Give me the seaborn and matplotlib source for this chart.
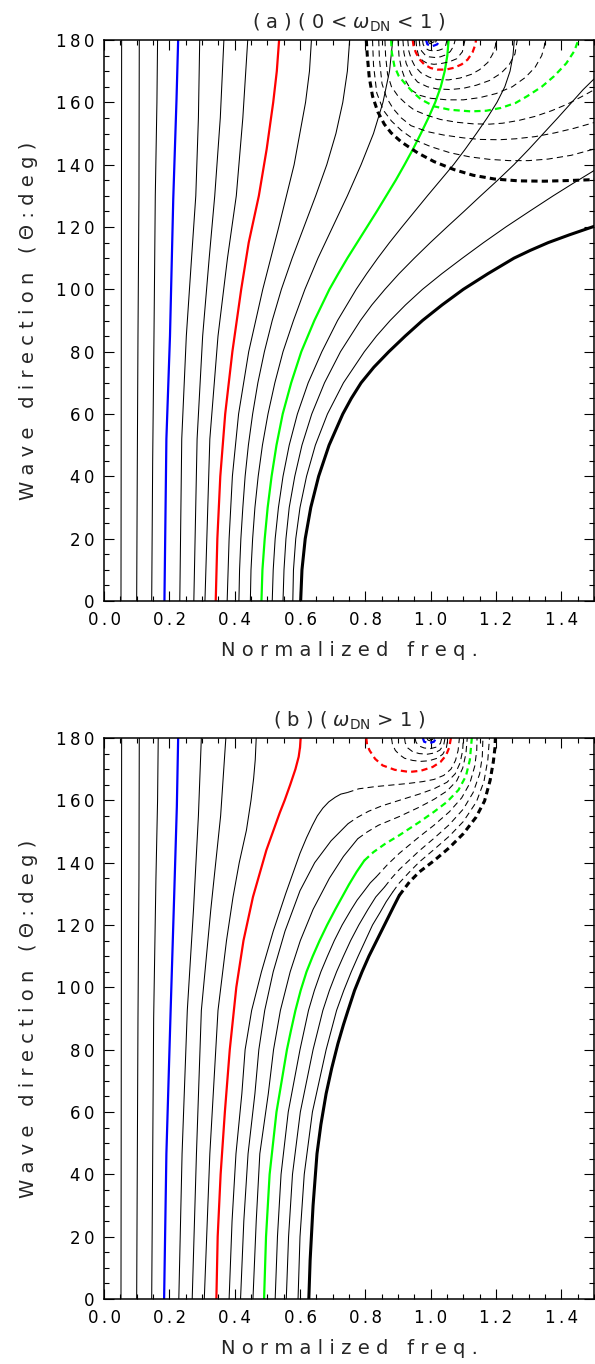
import matplotlib
matplotlib.use('Agg')
import matplotlib.pyplot as plt
import seaborn as sns
import pandas as pd
from matplotlib.ticker import MultipleLocator, FuncFormatter

# ---------------------------------------------------------------------------
# Panel (a): contour lines, one list per contour level
# freq = normalized frequency, dir = wave direction in degrees
# ---------------------------------------------------------------------------
A_SOLID_FREQ = [
    [0.052, 0.053, 0.054],
    [0.100, 0.102, 0.104, 0.107, 0.108],
    [0.146, 0.149, 0.153, 0.157, 0.162, 0.164],
    [0.185, 0.191, 0.202, 0.212, 0.222, 0.227],
    [0.232, 0.238, 0.252, 0.268, 0.281, 0.289, 0.293],
    [0.275, 0.285, 0.302, 0.322, 0.339, 0.356, 0.367],
    [0.309, 0.324, 0.349, 0.378, 0.405, 0.425, 0.440],
    [0.342, 0.347, 0.356, 0.371, 0.393, 0.420, 0.443, 0.474, 0.498, 0.518, 0.529, 0.536],
    [0.377, 0.383, 0.393, 0.412, 0.443, 0.486, 0.535, 0.582, 0.617, 0.629, 0.635],
    [0.413, 0.415, 0.419, 0.425, 0.432, 0.442, 0.455, 0.471, 0.491, 0.515, 0.543, 0.576, 0.612,
     0.648, 0.682, 0.710, 0.731, 0.745, 0.752],
    [0.448, 0.450, 0.455, 0.462, 0.472, 0.485, 0.502, 0.523, 0.548, 0.580, 0.615, 0.655, 0.700,
     0.745, 0.787, 0.825, 0.854, 0.874, 0.884],
    [0.482, 0.485, 0.492, 0.501, 0.513, 0.528, 0.547, 0.573, 0.604, 0.644, 0.690, 0.717, 0.745,
     0.775, 0.805, 0.835, 0.864, 0.893, 0.920, 0.946, 0.970, 0.993, 1.014, 1.031, 1.043, 1.051,
     1.055],
    [0.515, 0.518, 0.524, 0.534, 0.548, 0.567, 0.592, 0.625, 0.667, 0.715, 0.772, 0.804, 0.838,
     0.874, 0.912, 0.951, 0.990, 1.030, 1.070, 1.106, 1.140, 1.173, 1.203, 1.227, 1.243, 1.252,
     1.256],
    [0.548, 0.551, 0.557, 0.567, 0.584, 0.606, 0.636, 0.675, 0.724, 0.785, 0.820, 0.860, 0.903,
     0.950, 0.999, 1.050, 1.102, 1.153, 1.205, 1.255, 1.301, 1.345, 1.389, 1.432, 1.466, 1.500],
    [0.578, 0.580, 0.587, 0.600, 0.620, 0.647, 0.684, 0.733, 0.797, 0.834, 0.876, 0.923, 0.975,
     1.034, 1.097, 1.162, 1.230, 1.302, 1.375, 1.436, 1.500],
    [0.602, 0.606, 0.616, 0.633, 0.657, 0.689, 0.731, 0.757, 0.787, 0.826, 0.872, 0.922, 0.975,
     1.035, 1.100, 1.175, 1.255, 1.305, 1.360, 1.425, 1.500],
]
A_SOLID_DIR = [
    [0, 90, 180],
    [0, 45, 85, 130, 180],
    [0, 45, 85, 130, 160, 180],
    [0, 52, 85, 129, 161, 180],
    [0, 52, 85, 110, 130, 155, 180],
    [0, 52, 85, 110, 130, 155, 180],
    [0, 52, 85, 110, 130, 155, 180],
    [0, 20, 40, 60, 80, 100, 115, 130, 145, 160, 170, 180],
    [0, 20, 40, 60, 80, 100, 120, 140, 160, 170, 180],
    [0, 10, 20, 30, 40, 50, 60, 70, 80, 90, 100, 110, 120, 130, 140, 150, 160, 170, 180],
    [0, 10, 20, 30, 40, 50, 60, 70, 80, 90, 100, 110, 120, 130, 140, 150, 160, 170, 180],
    [0, 10, 20, 30, 40, 50, 60, 70, 80, 90, 100, 105, 110, 115, 120, 125, 130, 135, 140, 145,
     150, 155, 160, 165, 170, 175, 180],
    [0, 10, 20, 30, 40, 50, 60, 70, 80, 90, 100, 105, 110, 115, 120, 125, 130, 135, 140, 145,
     150, 155, 160, 165, 170, 175, 180],
    [0, 10, 20, 30, 40, 50, 60, 70, 80, 90, 95, 100, 105, 110, 115, 120, 125, 130, 135, 140,
     145, 150, 155, 160, 164, 167.5],
    [0, 10, 20, 30, 40, 50, 60, 70, 80, 85, 90, 95, 100, 105, 110, 115, 120, 125, 130, 134, 138.1],
    [0, 10, 20, 30, 40, 50, 60, 65, 70, 75, 80, 85, 90, 95, 100, 105, 110, 112.5, 115, 117.5, 120.2],
]

A_DASH_LEVELS = [2, 3, 4, 5, 6, 7, 8, 9, 10, 11, 12, 13, 14, 15, 16]
A_DASH_FREQ = [
    [0.997, 1.000, 1.005, 1.010, 1.012],
    [0.993, 0.995, 1.004, 1.014, 1.018],
    [0.986, 0.990, 1.005, 1.020, 1.027],
    [0.975, 0.977, 0.983, 0.995, 1.010, 1.025, 1.038, 1.046, 1.050],
    [0.965, 0.967, 0.972, 0.982, 0.995, 1.012, 1.030, 1.048, 1.060, 1.070, 1.075],
    [0.955, 0.957, 0.963, 0.975, 0.990, 1.010, 1.030, 1.057, 1.080, 1.097, 1.105],
    [0.945, 0.948, 0.955, 0.966, 0.981, 1.000, 1.021, 1.046, 1.072, 1.095, 1.113, 1.128, 1.136, 1.139],
    [0.930, 0.933, 0.940, 0.952, 0.970, 0.995, 1.020, 1.055, 1.090, 1.125, 1.150, 1.175, 1.190,
     1.198, 1.200],
    [0.915, 0.918, 0.925, 0.940, 0.960, 0.990, 1.020, 1.060, 1.100, 1.140, 1.180, 1.215, 1.240,
     1.258, 1.265],
    [0.900, 0.903, 0.910, 0.923, 0.940, 0.965, 1.000, 1.050, 1.100, 1.150, 1.200, 1.250, 1.290,
     1.320, 1.340, 1.348, 1.350],
    [0.879, 0.881, 0.889, 0.902, 0.920, 0.945, 0.971, 1.011, 1.060, 1.123, 1.170, 1.215, 1.260,
     1.296, 1.340, 1.378, 1.415, 1.440, 1.452],
    [0.860, 0.862, 0.868, 0.880, 0.900, 0.925, 0.950, 0.990, 1.030, 1.080, 1.130, 1.180, 1.220,
     1.270, 1.320, 1.370, 1.420, 1.460, 1.500],
    [0.841, 0.843, 0.851, 0.865, 0.885, 0.910, 0.940, 0.990, 1.040, 1.100, 1.150, 1.210, 1.260,
     1.320, 1.380, 1.440, 1.500],
    [0.822, 0.825, 0.835, 0.855, 0.880, 0.910, 0.950, 1.000, 1.060, 1.120, 1.180, 1.240, 1.300,
     1.360, 1.430, 1.500],
    [0.803, 0.806, 0.812, 0.822, 0.838, 0.858, 0.879, 0.910, 0.960, 1.010, 1.072, 1.130, 1.195,
     1.270, 1.347, 1.420, 1.500],
]
A_DASH_DIR = [
    [180, 179.4, 179.2, 179.4, 180],
    [180, 179.0, 178.7, 179.0, 180],
    [180, 178.6, 178.0, 178.6, 180],
    [180, 178.6, 177.4, 176.7, 176.5, 176.7, 177.2, 178.3, 180],
    [180, 178.0, 176.5, 175.3, 174.6, 174.4, 174.6, 175.3, 176.3, 178.0, 180],
    [180, 177.5, 175.0, 173.4, 172.5, 172.2, 172.4, 173.0, 174.0, 176.2, 180],
    [180, 177.8, 175.9, 173.8, 172.1, 171.0, 170.5, 170.5, 171.1, 172.2, 173.7, 176.0, 178.3, 180],
    [180, 176.5, 174.0, 171.5, 169.5, 168.1, 167.3, 167.2, 167.8, 169.0, 170.5, 172.8, 175.5,
     178.0, 180],
    [180, 176.0, 172.5, 169.0, 166.5, 165.0, 164.3, 164.1, 164.5, 165.5, 167.0, 169.3, 172.0,
     175.5, 180],
    [180, 175.0, 171.0, 167.0, 164.0, 162.3, 161.3, 160.8, 160.8, 161.5, 162.8, 165.0, 168.0,
     171.3, 175.0, 178.0, 180],
    [180, 176.0, 171.6, 168.5, 166.2, 163.3, 160.9, 158.7, 157.6, 157.1, 157.3, 158.2, 159.8,
     162.0, 165.0, 168.4, 172.5, 176.5, 180],
    [180, 175.0, 169.0, 165.0, 162.0, 159.5, 157.5, 155.8, 154.5, 153.6, 153.1, 153.0, 153.3,
     154.2, 155.5, 157.3, 159.5, 161.7, 164.0],
    [180, 174.0, 166.0, 161.5, 158.0, 155.0, 152.5, 150.6, 149.5, 148.6, 148.1, 148.0, 148.3,
     149.0, 150.2, 151.7, 153.5],
    [180, 172.0, 163.0, 157.5, 154.0, 151.0, 148.0, 145.8, 143.8, 142.5, 141.7, 141.3, 141.3,
     141.8, 143.0, 145.0],
    [180, 175.0, 168.0, 162.0, 157.0, 153.0, 150.2, 147.3, 143.8, 141.0, 138.4, 136.6, 135.4,
     134.8, 134.7, 134.9, 135.2],
]

# ---------------------------------------------------------------------------
# Panel (b)
# ---------------------------------------------------------------------------
B_SOLID_FREQ = [
    [0.052, 0.053, 0.054],
    [0.100, 0.102, 0.104, 0.107, 0.108],
    [0.146, 0.149, 0.152, 0.159, 0.164, 0.166],
    [0.184, 0.191, 0.204, 0.215, 0.223, 0.227],
    [0.229, 0.239, 0.255, 0.274, 0.289, 0.298],
    [0.270, 0.283, 0.298, 0.327, 0.357, 0.373],
    [0.307, 0.324, 0.349, 0.375, 0.395, 0.414, 0.436, 0.450, 0.458, 0.463, 0.466],
    [0.344, 0.348, 0.357, 0.370, 0.385, 0.405, 0.427, 0.456, 0.497, 0.538, 0.553, 0.570, 0.586,
     0.596, 0.600, 0.602],
    [0.383, 0.392, 0.404, 0.422, 0.432, 0.452, 0.482, 0.518, 0.556, 0.600, 0.620, 0.638, 0.653,
     0.670, 0.688, 0.708, 0.725, 0.745],
    [0.418, 0.428, 0.441, 0.462, 0.474, 0.492, 0.518, 0.554, 0.600, 0.645, 0.695, 0.747],
    [0.456, 0.466, 0.477, 0.503, 0.519, 0.540, 0.570, 0.601, 0.640, 0.690, 0.733, 0.777],
    [0.490, 0.496, 0.507, 0.528, 0.560, 0.572, 0.586, 0.602, 0.620, 0.639, 0.660, 0.683, 0.708,
     0.729, 0.750, 0.773, 0.797],
    [0.524, 0.531, 0.542, 0.564, 0.600, 0.626, 0.644, 0.664, 0.684, 0.705, 0.729, 0.757, 0.775,
     0.797, 0.815, 0.833],
    [0.558, 0.565, 0.577, 0.601, 0.640, 0.670, 0.690, 0.712, 0.733, 0.755, 0.780, 0.808, 0.832,
     0.859],
    [0.594, 0.600, 0.613, 0.638, 0.680, 0.712, 0.734, 0.757, 0.778, 0.800, 0.822, 0.845, 0.864,
     0.884],
    [0.627, 0.631, 0.640, 0.652, 0.664, 0.680, 0.697, 0.716, 0.733, 0.747, 0.767, 0.790, 0.811,
     0.830, 0.849, 0.868, 0.887, 0.904],
]
B_SOLID_DIR = [
    [0, 90, 180],
    [0, 45, 90, 135, 180],
    [0, 45, 90, 135, 160, 180],
    [0, 46.6, 92.6, 130, 158, 180],
    [0, 46.6, 92.6, 125, 155, 180],
    [0, 46.6, 92.6, 125, 155, 180],
    [0, 46.6, 92.6, 115, 129, 140, 150.4, 160, 167, 173, 180],
    [0, 20, 40, 60, 80, 100, 115, 129, 144, 156, 160, 165, 170, 174, 177, 180],
    [0, 25, 46.6, 65.9, 80, 92.6, 105, 118, 130, 143, 148, 152, 155, 157.5, 159.5, 161, 162,
     162.5],
    [0, 25, 46.6, 65.9, 80, 92.6, 105, 118, 131, 140, 147, 152.5],
    [0, 25, 46.6, 65.9, 80, 92.6, 105, 115, 125, 135, 142, 147.7],
    [0, 20, 40, 60, 80, 86, 92.6, 99, 105, 110, 115, 120, 125, 129, 133, 137, 140.7],
    [0, 20, 40, 60, 80, 92.6, 99, 105, 110, 115, 120, 125, 128, 131, 133.5, 135.4],
    [0, 20, 40, 60, 80, 92.6, 99, 105, 110, 115, 120, 125, 129, 132.2],
    [0, 20, 40, 60, 80, 92.6, 99, 105, 110, 115, 120, 124, 127.5, 130.6],
    [0, 12.4, 30, 46.6, 56, 65.9, 74, 81.9, 88, 92.6, 99, 105, 110, 114, 118, 122, 126, 129.5],
]

B_DASH_LEVELS = [2, 3, 4, 5, 6, 7, 8, 9, 10, 11, 12, 13, 14, 15, 16]
B_DASH_FREQ = [
    [0.995, 1.000, 1.006, 1.008],
    [0.988, 0.992, 1.002, 1.010, 1.012],
    [0.976, 0.980, 0.995, 1.010, 1.017],
    [0.952, 0.955, 0.963, 0.980, 1.000, 1.018, 1.030, 1.034],
    [0.920, 0.922, 0.930, 0.945, 0.965, 0.990, 1.012, 1.028, 1.040, 1.044],
    [0.880, 0.883, 0.892, 0.905, 0.920, 0.945, 0.970, 0.995, 1.020, 1.037, 1.048, 1.053],
    [0.803, 0.805, 0.813, 0.830, 0.853, 0.890, 0.935, 0.970, 1.006, 1.030, 1.047, 1.057, 1.062],
    [0.745, 0.780, 0.830, 0.880, 0.930, 0.975, 1.010, 1.040, 1.062, 1.076, 1.084, 1.088],
    [0.747, 0.775, 0.810, 0.850, 0.904, 0.965, 1.010, 1.050, 1.075, 1.090, 1.098, 1.100],
    [0.777, 0.805, 0.840, 0.904, 0.965, 1.010, 1.050, 1.080, 1.098, 1.108, 1.112],
    [0.797, 0.825, 0.860, 0.904, 0.965, 1.010, 1.050, 1.085, 1.108, 1.120, 1.126],
    [0.833, 0.868, 0.904, 0.965, 1.010, 1.057, 1.095, 1.120, 1.135, 1.141, 1.142],
    [0.859, 0.880, 0.904, 0.965, 1.010, 1.057, 1.100, 1.130, 1.150, 1.158, 1.160],
    [0.884, 0.904, 0.935, 0.965, 1.010, 1.057, 1.100, 1.140, 1.163, 1.175, 1.180],
    [0.904, 0.935, 0.965, 1.010, 1.057, 1.100, 1.139, 1.165, 1.182, 1.192, 1.197, 1.198],
]
B_DASH_DIR = [
    [180, 179.5, 179.5, 180],
    [180, 179.3, 179.0, 179.3, 180],
    [180, 178.8, 178.3, 178.8, 180],
    [180, 178.7, 177.5, 176.8, 176.6, 177.1, 178.3, 180],
    [180, 178.5, 176.8, 175.6, 175.0, 174.8, 175.2, 176.1, 177.8, 180],
    [180, 178.0, 176.0, 174.6, 173.5, 172.8, 172.5, 172.7, 173.5, 174.8, 176.8, 180],
    [180, 178.0, 176.0, 173.3, 171.2, 169.8, 169.1, 169.5, 170.7, 172.3, 174.4, 177.0, 180],
    [162.5, 163.7, 164.4, 164.9, 165.4, 166.0, 166.7, 168.0, 170.0, 172.8, 176.0, 180],
    [152.5, 154.5, 156.5, 158.2, 160.0, 162.0, 163.7, 165.8, 168.5, 172.0, 176.0, 180],
    [147.7, 149.8, 152.0, 154.8, 157.8, 160.3, 163.0, 166.3, 170.3, 175.0, 180],
    [140.7, 143.4, 146.0, 148.8, 153.0, 156.3, 159.5, 163.3, 167.8, 173.0, 180],
    [135.4, 139.4, 143.0, 148.3, 152.0, 156.3, 160.8, 165.5, 171.0, 176.0, 180],
    [132.2, 135.0, 137.8, 143.8, 147.8, 152.2, 157.2, 162.5, 168.5, 174.0, 180],
    [130.6, 133.5, 137.0, 140.2, 144.2, 148.5, 153.2, 159.5, 166.0, 173.0, 180],
    [129.5, 133.8, 137.0, 140.6, 144.8, 149.3, 154.6, 159.8, 166.4, 172.5, 177.0, 180],
]

LEVEL_COLOR = {4: '#0000ff', 8: '#ff0000', 12: '#00ff00', 16: '#000000'}
LEVEL_WIDTH = {4: 1.6, 8: 1.6, 12: 1.6, 16: 2.2}
THIN = '\u2009'


def spread(text, gap=' '):
    return gap.join(text)


def draw_level(ax, freq, direc, level, dashed):
    color = LEVEL_COLOR.get(level, 'black')
    lw = LEVEL_WIDTH.get(level, 0.75)
    df = pd.DataFrame({'freq': freq, 'dir': direc})
    sns.lineplot(data=df, x='freq', y='dir', sort=False, estimator=None,
                 color=color, linewidth=lw,
                 linestyle=(0, (4.5, 3.0)) if dashed else '-', ax=ax)


def setup(ax, title):
    ax.set_xlim(0, 1.5)
    ax.set_ylim(0, 180)
    ax.xaxis.set_major_locator(MultipleLocator(0.2))
    ax.xaxis.set_minor_locator(MultipleLocator(0.05))
    ax.yaxis.set_major_locator(MultipleLocator(20))
    ax.yaxis.set_minor_locator(MultipleLocator(5))
    ax.xaxis.set_major_formatter(FuncFormatter(lambda v, p: THIN.join(f'{v:.1f}')))
    ax.yaxis.set_major_formatter(FuncFormatter(lambda v, p: THIN.join(f'{v:.0f}')))
    ax.tick_params(which='both', direction='in', top=True, right=True,
                   width=0.8, labelsize=12, colors='black')
    ax.tick_params(which='major', length=7, pad=7)
    ax.tick_params(which='minor', length=3.5)
    ax.set_xlabel(spread('Normalized freq.'), fontsize=14)
    ax.set_ylabel(spread('Wave direction (Θ:deg)'), fontsize=14)
    ax.xaxis.set_label_coords(0.5, -0.072)
    ax.yaxis.set_label_coords(-0.134, 0.5)
    ax.set_title(title, fontsize=14, pad=8)
    for s in ax.spines.values():
        s.set_linewidth(1.1)
        s.set_color('black')


sns.set_style('ticks')
plt.rcParams['font.family'] = ['DejaVu Sans']
plt.rcParams['lines.scale_dashes'] = False
plt.rcParams['mathtext.fontset'] = 'dejavusans'

fig = plt.figure(figsize=(5.95, 13.64), dpi=100)
ax_a = fig.add_axes([104 / 595, 1 - 601 / 1364, 490 / 595, 561 / 1364])
ax_b = fig.add_axes([104 / 595, 1 - 1299 / 1364, 490 / 595, 561 / 1364])

for i, (f, d) in enumerate(zip(A_SOLID_FREQ, A_SOLID_DIR)):
    draw_level(ax_a, f, d, i + 1, False)
for lev, f, d in zip(A_DASH_LEVELS, A_DASH_FREQ, A_DASH_DIR):
    draw_level(ax_a, f, d, lev, True)

for i, (f, d) in enumerate(zip(B_SOLID_FREQ, B_SOLID_DIR)):
    draw_level(ax_b, f, d, i + 1, False)
for lev, f, d in zip(B_DASH_LEVELS, B_DASH_FREQ, B_DASH_DIR):
    draw_level(ax_b, f, d, lev, True)

setup(ax_a, '( a ) ( 0 < $\\omega_{\\mathrm{DN}}$ < 1 )')
setup(ax_b, '( b ) ( $\\omega_{\\mathrm{DN}}$ > 1 )')

fig.savefig('out.png', dpi=100)
